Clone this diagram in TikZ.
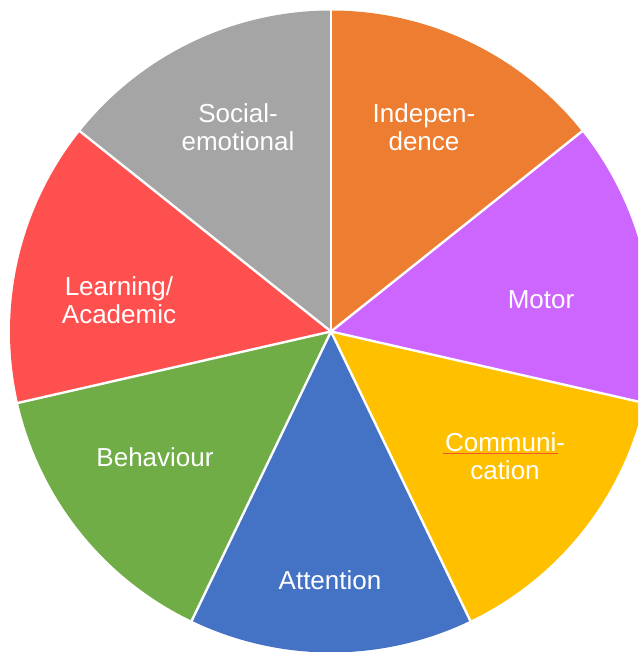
\documentclass[tikz,border=0pt]{standalone}
\usepackage{fontspec}
\setmainfont{Liberation Sans}
\definecolor{cIndep}{HTML}{ED7D31}
\definecolor{cMotor}{HTML}{CC66FF}
\definecolor{cComm}{HTML}{FFC000}
\definecolor{cAttn}{HTML}{4472C4}
\definecolor{cBehav}{HTML}{70AD47}
\definecolor{cLearn}{HTML}{FF5050}
\definecolor{cSocial}{HTML}{A5A5A5}
\definecolor{cSpell}{HTML}{F0562A}
\begin{document}
\begin{tikzpicture}[x=1pt,y=1pt,
  lbl/.style={text=white, align=center, font=\fontsize{26}{28}\selectfont, inner sep=0pt},
  sep/.style={draw=white, line width=2.4pt}]
\useasboundingbox (-331,-320.5) rectangle (307,331.5);
\begin{scope}
\clip (-331,-320.5) rectangle (307,331.5);
\def\R{321}
% seven equal slices, clockwise from the top
\foreach \col [count=\i from 0] in {cIndep,cMotor,cComm,cAttn,cBehav,cLearn,cSocial}{
  \pgfmathsetmacro{\a}{90-\i*360/7}
  \pgfmathsetmacro{\b}{90-(\i+1)*360/7}
  \fill[\col] (0,0) -- (\a:\R) arc[start angle=\a, end angle=\b, radius=\R] -- cycle;
}
\coordinate (ctr) at (0,0);
\foreach \i in {0,...,6}{
  \pgfmathsetmacro{\a}{90-\i*360/7}
  \coordinate (rim\i) at (\a:\R+2);
  \draw[sep] (ctr) -- (rim\i);
}
\end{scope}
% labels
\node[lbl] (indep) at (93,204.5) {Indepen-\\dence};
\node[lbl] (social) at (-93,204.5) {Social-\\emotional};
\node[lbl] (motor) at (210,31.5) {Motor};
\node[lbl] (comm) at (174,-124.5) {Communi-\\cation};
\node[lbl] (attn) at (-1,-248.5) {Attention};
\node[lbl] (behav) at (-176,-125.5) {Behaviour};
\node[lbl] (learn) at (-212,31.5) {Learning/\\Academic};
% proofing underline beneath the first word part
\coordinate (ulA) at (112,-122);
\coordinate (ulB) at (227,-122);
\draw[cSpell, line width=1pt] (ulA) -- (ulB);
\end{tikzpicture}
\end{document}
